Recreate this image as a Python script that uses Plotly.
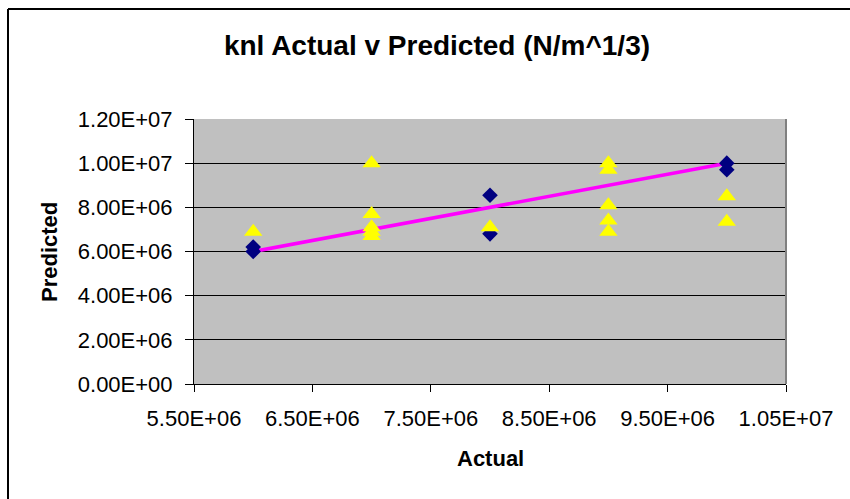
import plotly.graph_objects as go

# ---- data ----
blue_x = [6.0e6, 6.0e6, 8.0e6, 8.0e6, 1.0e7, 1.0e7]
blue_y = [6.2e6, 6.0e6, 8.55e6, 6.8e6, 1.0e7, 9.7e6]

yellow_x = [6.0e6, 7.0e6, 7.0e6, 7.0e6, 7.0e6, 7.0e6, 8.0e6,
            9.0e6, 9.0e6, 9.0e6, 9.0e6, 9.0e6, 1.0e7, 1.0e7]
yellow_y = [6.9e6, 1.0e7, 7.7e6, 7.1e6, 6.9e6, 6.7e6, 7.1e6,
            1.0e7, 9.7e6, 8.1e6, 7.4e6, 6.9e6, 8.5e6, 7.35e6]

line_x = [6.0e6, 1.0e7]
line_y = [6.0e6, 1.0e7]

x_tickvals = [5.5e6, 6.5e6, 7.5e6, 8.5e6, 9.5e6, 1.05e7]
x_ticktext = ["5.50E+06", "6.50E+06", "7.50E+06", "8.50E+06", "9.50E+06", "1.05E+07"]
y_tickvals = [0, 2e6, 4e6, 6e6, 8e6, 1.0e7, 1.2e7]
y_ticktext = ["0.00E+00", "2.00E+06", "4.00E+06", "6.00E+06", "8.00E+06", "1.00E+07", "1.20E+07"]

title_text = "knl Actual v Predicted (N/m^1/3)"
x_title = "Actual"
y_title = "Predicted"

FONT = "Liberation Sans, Arial, sans-serif"

fig = go.Figure()
fig.add_trace(go.Scatter(x=line_x, y=line_y, mode="lines",
                         line=dict(color="#FF00FF", width=3.5), showlegend=False))
fig.add_trace(go.Scatter(x=blue_x, y=blue_y, mode="markers",
                         marker=dict(symbol="diamond", size=12, color="#000080",
                                     line=dict(width=0)), showlegend=False))
fig.add_trace(go.Scatter(x=yellow_x, y=yellow_y, mode="markers",
                         marker=dict(symbol="triangle-up", size=16, color="#FFFF00",
                                     line=dict(width=0)), showlegend=False))

L, R, T, B = 194, 786, 119, 384
W, H = 850, 499


def px(xp):
    return (xp - L) / (R - L)


def py(yp):
    return (B - yp) / (B - T)


fig.update_layout(
    width=W, height=H,
    margin=dict(l=L, r=W - R, t=T, b=H - B),
    paper_bgcolor="white",
    plot_bgcolor="#C0C0C0",
    font=dict(family=FONT, color="black", size=22),
    title=dict(text="<b>" + title_text + "</b>", x=437 / W, xanchor="center",
               y=1 - 45 / H, yanchor="middle",
               font=dict(family=FONT, size=28, color="black")),
    xaxis=dict(range=[5.5e6, 1.05e7], tickvals=x_tickvals, ticktext=x_ticktext,
               showgrid=False, zeroline=False, showline=True, linecolor="black",
               linewidth=1, ticks="outside", ticklen=7, tickcolor="black",
               tickfont=dict(size=22), ticklabelstandoff=8),
    yaxis=dict(range=[0, 1.2e7], tickvals=y_tickvals, ticktext=y_ticktext,
               showgrid=True, gridcolor="black", gridwidth=1, zeroline=False,
               showline=True, linecolor="black", linewidth=1,
               ticks="outside", ticklen=8, tickcolor="black",
               tickfont=dict(size=22), ticklabelstandoff=8),
    annotations=[
        dict(text="<b>" + x_title + "</b>", x=px(490), y=py(458), xref="paper", yref="paper",
             showarrow=False, xanchor="center", yanchor="middle",
             font=dict(family=FONT, size=22, color="black")),
        dict(text="<b>" + y_title + "</b>", x=px(49), y=py(252), xref="paper", yref="paper",
             showarrow=False, xanchor="center", yanchor="middle", textangle=-90,
             font=dict(family=FONT, size=22, color="black")),
    ],
    shapes=[
        # right edge of plot area
        dict(type="line", xref="paper", yref="paper", x0=1, x1=1, y0=0, y1=1,
             line=dict(color="#808080", width=2)),
        # outer chart frame (left and top edges)
        dict(type="line", xref="paper", yref="paper", x0=px(8), x1=px(8), y0=py(9), y1=py(H + 5),
             line=dict(color="black", width=2)),
        dict(type="line", xref="paper", yref="paper", x0=px(8), x1=px(W + 5), y0=py(9), y1=py(9),
             line=dict(color="black", width=2)),
    ],
)

fig.write_html("out.html")
